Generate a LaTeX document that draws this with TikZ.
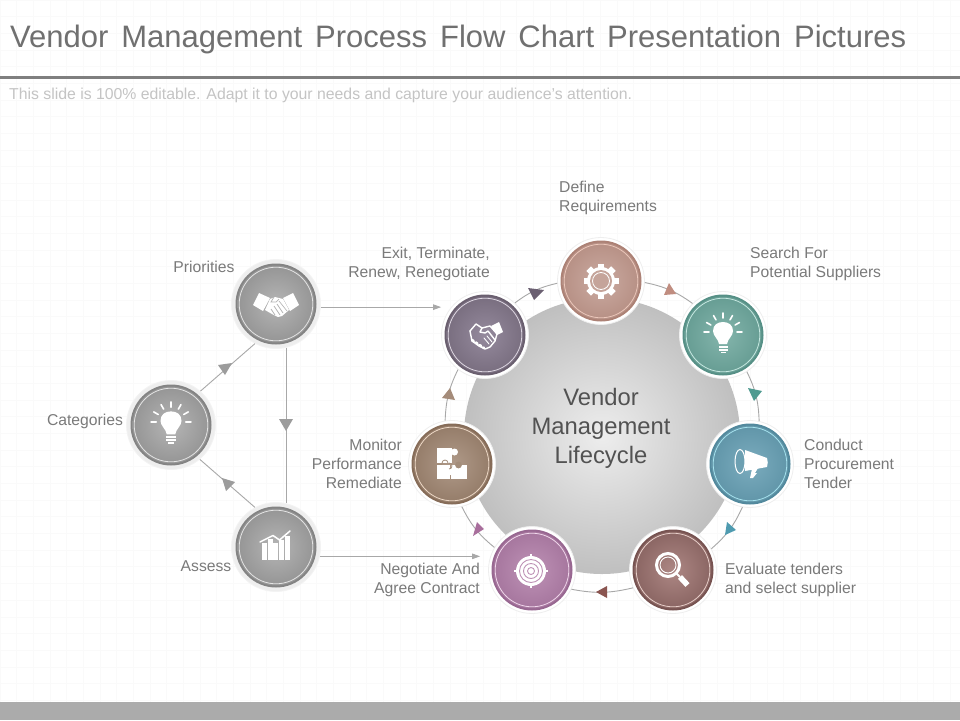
\documentclass[tikz,border=0pt]{standalone}
\usepackage{fontspec}
\setmainfont{Liberation Sans}
\newfontfamily\titlefont[WordSpace=1.5]{Liberation Sans}
\usetikzlibrary{arrows.meta}
\definecolor{gridc}{HTML}{FAFAFA}
\definecolor{rulec}{HTML}{7F7F7F}
\definecolor{bandc}{HTML}{ABABAB}
\definecolor{titlec}{HTML}{707070}
\definecolor{subc}{HTML}{C4C4C4}
\definecolor{labelc}{HTML}{7A7A7A}
\definecolor{linec}{HTML}{A8A8A8}
\definecolor{haloc}{HTML}{EEEEEE}
\definecolor{defA}{HTML}{CBABA2}\definecolor{defB}{HTML}{A67A6D}\definecolor{defR}{HTML}{EBC7BA}\definecolor{defT}{HTML}{C08D80}
\definecolor{seaA}{HTML}{84B5AC}\definecolor{seaB}{HTML}{4E897F}\definecolor{seaR}{HTML}{C6E8E1}\definecolor{seaT}{HTML}{4F9A90}
\definecolor{conA}{HTML}{7BACBE}\definecolor{conB}{HTML}{4B8397}\definecolor{conR}{HTML}{A6E2EE}\definecolor{conT}{HTML}{4F9BB0}
\definecolor{evaA}{HTML}{AD8784}\definecolor{evaB}{HTML}{6E4A48}\definecolor{evaR}{HTML}{E8CFCA}\definecolor{evaT}{HTML}{8A5550}
\definecolor{negA}{HTML}{BE92B6}\definecolor{negB}{HTML}{925F8A}\definecolor{negR}{HTML}{F0D7EB}\definecolor{negT}{HTML}{A86E9C}
\definecolor{monA}{HTML}{B09A89}\definecolor{monB}{HTML}{7E644F}\definecolor{monR}{HTML}{EDD8C6}\definecolor{monT}{HTML}{A58C7A}
\definecolor{exiA}{HTML}{958A9D}\definecolor{exiB}{HTML}{625767}\definecolor{exiR}{HTML}{DED7E2}\definecolor{exiT}{HTML}{6B6072}
\definecolor{gryA}{HTML}{B5B5B5}\definecolor{gryB}{HTML}{7B7B7B}\definecolor{gryR}{HTML}{E4E4E4}\definecolor{gryT}{HTML}{9C9C9C}
\tikzset{
  x=1pt,y=-1pt,
  gridline/.style={draw=gridc,line width=0.6pt},
  halo/.style={circle,minimum size=87pt,inner sep=0pt,fill=white,draw=haloc,line width=0.8pt},
  ghalo/.style={circle,minimum size=89pt,inner sep=0pt,fill=haloc,draw=haloc!70!white,line width=0.8pt},
  lab/.style={text=labelc,font=\fontsize{15.7}{19}\selectfont,inner sep=0pt},
  conn/.style={draw=linec,line width=0.9pt},
  flow/.style={conn,-{Triangle[length=8pt,width=5.5pt,fill=linec]}},
  icl/.style={draw=white,line width=1.4pt,line cap=round,line join=round},
}
\newcommand{\bdg}[5]{% style,name,x,y,colour prefix
  \node[#1] (#2) at (#3,#4) {};
  \fill[#5B!85!#5A] (#2) circle (40.5);
  \shade[inner color=#5A,outer color=#5A!45!#5B] (#2) circle (38.5);
  \draw[#5R,line width=0.8pt] (#2) circle (36.8);
}
\newcommand{\headtri}[7]{\fill[#1] (#2,#3) -- (#4,#5) -- (#6,#7) -- cycle;}
\newcommand{\bulbicon}[2]{%
  \begin{scope}[shift={(#1)},scale=#2]
    \fill[white] (-4,9) .. controls (-4.5,4) and (-10,1) .. (-10,-4)
       .. controls (-10,-10) and (-5.5,-13) .. (0,-13)
       .. controls (5.5,-13) and (10,-10) .. (10,-4)
       .. controls (10,1) and (4.5,4) .. (4,9) -- cycle;
    \fill[white] (-4.5,10.5) rectangle (4.5,12.5);
    \fill[white] (-4.5,13.5) rectangle (4.5,15.5);
    \fill[white] (-2.5,16.5) rectangle (2.5,18);
    \foreach \a in {180,210,...,360}
      \draw[white,line width=1.6pt,line cap=round,shift={(0,-3)}] (\a:14) -- (\a:19);
  \end{scope}}
\begin{document}
\begin{tikzpicture}
\useasboundingbox (0,0) rectangle (960,720);
\fill[white] (0,0) rectangle (960,720);
\foreach \g in {0,16.67,...,960} \draw[gridline] (\g,0) -- (\g,702);
\foreach \g in {0,16.67,...,702} \draw[gridline] (0,\g) -- (960,\g);
\fill[bandc] (0,702) rectangle (960,720);
\fill[rulec] (0,76) rectangle (960,79);

\node[anchor=base west,inner sep=0pt,text=titlec,font=\titlefont\fontsize{31}{36}\selectfont] (title) at (10,47) {Vendor Management Process Flow Chart Presentation Pictures};
\node[anchor=base west,inner sep=0pt,text=subc,font=\fontsize{15.8}{19}\selectfont] (subtitle) at (9,99) {This slide is 100\% editable. Adapt it to your needs and capture your audience's attention.};

% central disc
\shade[inner color=white!93!black,outer color=black!25] (602,436) circle (138);
\node[text=black!68,align=center,inner sep=0pt,font=\fontsize{23.8}{29}\selectfont] (hub) at (601,428) {Vendor\\Management\\Lifecycle};

% badges
\bdg{halo}{define}{601}{281}{def}
\bdg{halo}{search}{723}{335}{sea}
\bdg{halo}{conduct}{750}{464}{con}
\bdg{halo}{evaluate}{673}{570}{eva}
\bdg{halo}{negotiate}{532}{570}{neg}
\bdg{halo}{monitor}{452}{464}{mon}
\bdg{halo}{exit}{485}{335}{exi}
\bdg{ghalo}{priorities}{276}{304}{gry}
\bdg{ghalo}{categories}{171}{425}{gry}
\bdg{ghalo}{assess}{276}{547}{gry}

% ring connectors
\draw[conn] (exit.47) to[bend left=12] (define.183);
\draw[conn] (define.-2) to[bend left=12] (search.134);
\draw[conn] (search.-57) to[bend left=12] (conduct.78);
\draw[conn] (conduct.-100) to[bend left=12] (evaluate.29);
\draw[conn] (evaluate.204) to[bend left=12] (negotiate.-26);
\draw[conn] (negotiate.149) to[bend left=12] (monitor.-77);
\draw[conn] (monitor.99) to[bend left=12] (exit.232);
% left connectors
\draw[conn] (categories.49) -- (priorities.242);
\draw[conn] (assess.118) -- (categories.-50);
\draw[conn] (priorities.-77) -- (assess.77);
\draw[flow] (priorities.-4) -- (priorities.-4 -| exit.west);
\draw[flow,shorten >=8pt] (assess.-12) -- (assess.-12 -| negotiate.west);

% arrowheads on the connectors
\headtri{exiT}{528}{288}{544}{290}{534}{300}
\headtri{defT}{669}{283}{664}{295}{676}{294}
\headtri{seaT}{748}{388}{762}{391}{754}{401}
\headtri{conT}{727}{522}{736}{530}{725}{535}
\headtri{evaT}{596}{592}{607}{586}{607}{598}
\headtri{negT}{477}{522}{473}{536}{484}{529}
\headtri{monT}{450}{388}{442}{398}{455}{400}
\headtri{gryT}{232}{363}{218}{365}{225}{375}
\headtri{gryT}{222}{478}{235}{482}{226}{491}
\headtri{gryT}{279}{419}{293}{419}{286}{431}

% labels
\node[lab,anchor=west,align=left] (ldefine) at (559,198) {Define\\Requirements};
\node[lab,anchor=west,align=left] (lsearch) at (750,264) {Search For\\Potential Suppliers};
\node[lab,anchor=west,align=left] (lconduct) at (804,463.5) {Conduct\\Procurement\\Tender};
\node[lab,anchor=west,align=left] (levaluate) at (725,580) {Evaluate tenders\\and select supplier};
\node[lab,anchor=east,align=right] (lnegotiate) at (480,580) {Negotiate And\\Agree Contract};
\node[lab,anchor=east,align=right] (lmonitor) at (402,463.5) {Monitor\\Performance\\Remediate};
\node[lab,anchor=east,align=right] (lexit) at (490,264) {Exit, Terminate,\\Renew, Renegotiate};
\node[lab] (lpriorities) at (204,267) {Priorities};
\node[lab] (lcategories) at (85,421) {Categories};
\node[lab] (lassess) at (206,566) {Assess};

% gear
\begin{scope}[shift={(define)}]
  \foreach \a in {0,45,...,315}
    \fill[white,rotate=\a] (-3.2,-17.5) rectangle (3.2,-10);
  \fill[white] (0,0) circle (14);
  \fill[defA!85!defB] (0,0) circle (11);
  \draw[white,line width=0.8pt] (0,0) circle (8.5);
\end{scope}
% bulbs
\bulbicon{search}{1}
\bulbicon{categories}{1.05}
% megaphone
\begin{scope}[shift={(conduct)}]
  \fill[white] (-5,-14) -- (17,-6) .. controls (18,-3) and (18,0) .. (17,3) -- (-5,7) -- cycle;
  \fill[conA!70!conB] (-10,-2.5) ellipse (4 and 10);
  \draw[white,line width=1pt] (-10,-2.5) ellipse (5 and 12);
  \fill[white] (2,5) -- (8,4) -- (5,9) -- (7,9) -- (3,14) -- (0,14) -- cycle;
\end{scope}
% magnifier
\begin{scope}[shift={(evaluate)}]
  \draw[white,line width=3pt] (-5,-5) circle (11.5);
  \draw[white,line width=0.9pt] (-5,-5) circle (8);
  \draw[white,line width=2pt] (3.5,3.5) -- (7,7);
  \draw[white,line width=5.5pt] (7,7) -- (14.5,15);
\end{scope}
% target
\begin{scope}[shift={(negotiate)}]
  \draw[white,line width=1.2pt] (-18,1) -- (16,1) (-1,-16) -- (-1,18);
  \fill[white] (-1,1) circle (15);
  \draw[negA,line width=0.9pt] (-1,1) circle (11.5);
  \draw[negA,line width=0.9pt] (-1,1) circle (7.5);
  \draw[negA,line width=0.9pt] (-1,1) circle (3.5);
\end{scope}
% puzzle
\begin{scope}[shift={(monitor)}]
  \fill[white] (-15,-16) rectangle (0,-1);
  \fill[white] (2.5,-12) circle (3.5);
  \fill[white] (-15,1) rectangle (-2,15);
  \fill[white] (-1,1) rectangle (15,15);
  \fill[monA!75!monB] (6.5,1) circle (3.4);
  \fill[white] (-1.5,8) circle (3);
  \draw[monA!75!monB,line width=0.8pt] (-3,5) arc (270:90:-3);
  \draw[monA!75!monB,line width=0.8pt] (-10,-1) arc (180:360:3);
  \fill[monA!75!monB] (-15.5,-0.5) rectangle (-10,1);
\end{scope}
% outline handshake
\begin{scope}[shift={(exit)}]
  \fill[white] (6,-9) -- (14,-13) -- (18,-3) -- (12,0) -- cycle;
  \draw[icl] (-15,-4) -- (-9,-11) -- (-3,-7) -- (5,-9) -- (12,-1) -- (10,6) -- (5,12) -- (0,14) -- (-6,11) -- (-13,6);
  \draw[icl] (-15,-4) -- (-13,6);
  \draw[icl] (-3,-7) -- (-5,-3) -- (0,-2) -- (3,-4) -- (10,5);
  \draw[icl,line width=2.6pt,dash pattern=on 2pt off 2.5pt] (-13,5) -- (-1,13);
  \draw[icl,line width=0.9pt] (2,1) -- (7,7) (-1,3) -- (4,9);
\end{scope}
% solid handshake
\begin{scope}[shift={(priorities)}]
  \fill[white] (-23,1) -- (-17,-11) -- (-6,-6) -- (-13,7) -- cycle;
  \fill[white] (7,-6) -- (17,-11) -- (23,1) -- (14,7) -- cycle;
  \fill[white] (-6,-5) -- (-1,-7) -- (7,-5) -- (13,6) -- (6,12) -- (2,13) -- (-4,10) -- (-11,6) -- cycle;
  \draw[gryA,line width=0.7pt] (-2,-7) -- (-5,-2) -- (0,-2) -- (3,-5) (3,-3) -- (11,7) (1,0) -- (7,9) (-2,2) -- (4,11) (-5,5) -- (-1,11);
\end{scope}
% rising chart
\begin{scope}[shift={(assess)}]
  \fill[white] (-14,-4) rectangle (-9,13);
  \fill[white] (-8.3,-8) rectangle (-3.3,13);
  \fill[white] (-2.6,-4) rectangle (2.4,13);
  \fill[white] (3.1,-7) rectangle (8.1,13);
  \fill[white] (8.8,-11) rectangle (13.8,13);
  \draw[white,line width=1.5pt,line cap=round,line join=round] (-16,-5) -- (-3,-11.5) -- (3.5,-7) -- (14,-16);
\end{scope}
\end{tikzpicture}
\end{document}
